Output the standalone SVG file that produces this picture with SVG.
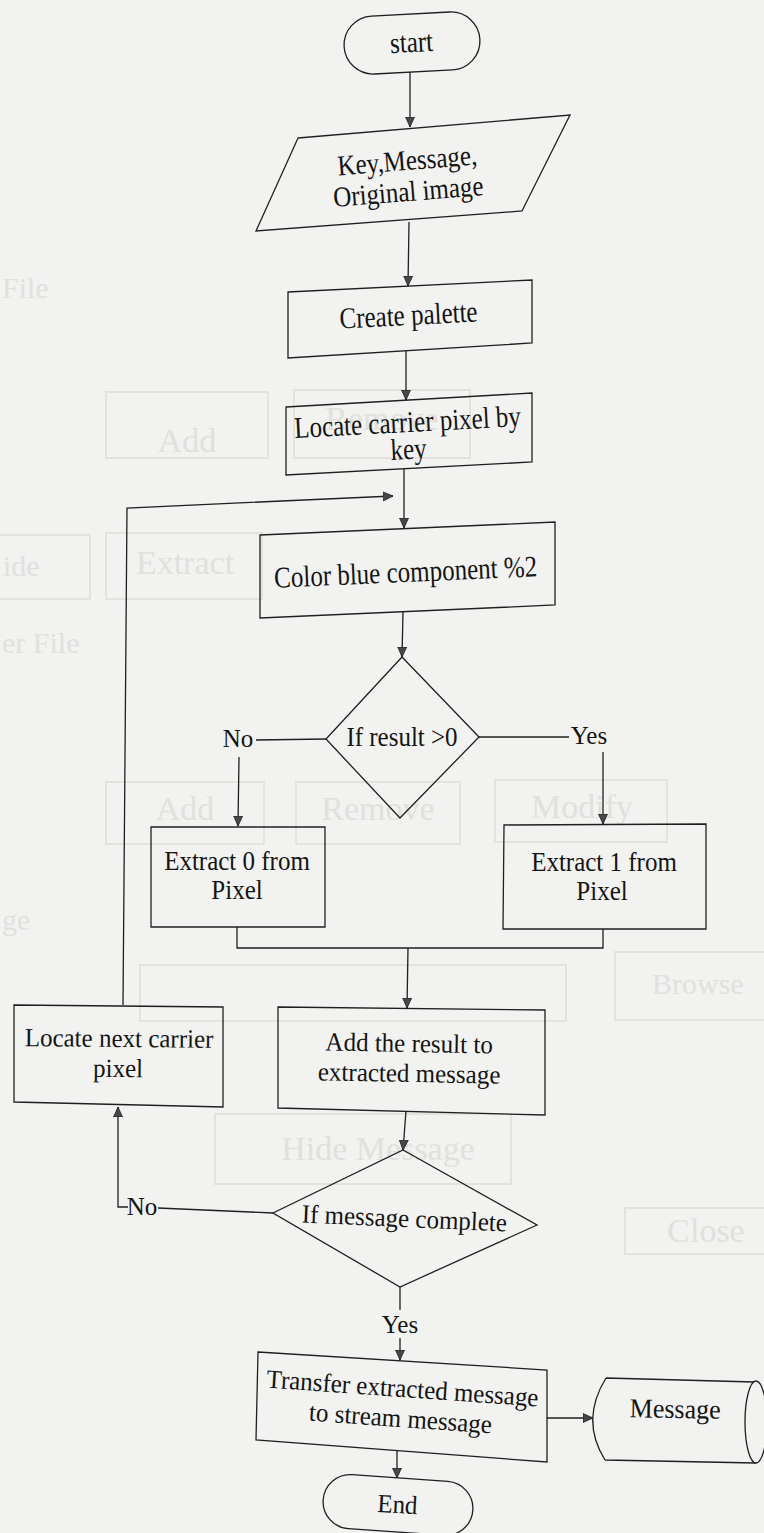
<svg xmlns="http://www.w3.org/2000/svg" width="764" height="1533" viewBox="0 0 764 1533">
  <style>
    .ln{fill:none;stroke:#1f1f1f;stroke-width:1.3;stroke-linejoin:miter}
    .shape{fill:none;stroke:#1f1f1f;stroke-width:1.3}
    .t{font-family:"Liberation Serif","Times New Roman",serif;font-size:25px;fill:#141414;text-anchor:middle}
    .ghost{fill:none;stroke:#e2e2df;stroke-width:2}
    .gt{font-family:"Liberation Serif","Times New Roman",serif;font-size:34px;fill:#e0e0dd;text-anchor:middle}
    .gl{font-family:"Liberation Serif","Times New Roman",serif;font-size:30px;fill:#e0e0dd;text-anchor:start}
  </style>
  <defs>
    <marker id="arrow" markerUnits="userSpaceOnUse" markerWidth="12" markerHeight="12" refX="10" refY="5" orient="auto">
      <path d="M0,0.5 L10,5 L0,9.5 z" fill="#474747" stroke="#1f1f1f" stroke-width="0.8"/>
    </marker>
  </defs>

  <!-- paper -->
  <rect x="0" y="0" width="764" height="1533" fill="#f2f2f0"/>

  <!-- faint print from the facing sheet -->
  <g id="show-through">
    <rect class="ghost" x="106" y="392" width="162" height="66"/>
    <rect class="ghost" x="294" y="390" width="176" height="68"/>
    <text class="gt" x="187" y="452">Add</text>
    <text class="gt" x="382" y="430">Remove</text>
    <rect class="ghost" x="-10" y="535" width="100" height="64"/>
    <rect class="ghost" x="106" y="533" width="156" height="66"/>
    <text class="gl" x="3" y="576">ide</text>
    <text class="gt" x="185" y="574">Extract</text>
    <text class="gl" x="2" y="298">File</text>
    <text class="gl" x="2" y="653">er File</text>
    <rect class="ghost" x="106" y="782" width="158" height="62"/>
    <rect class="ghost" x="296" y="782" width="164" height="62"/>
    <rect class="ghost" x="495" y="780" width="172" height="62"/>
    <text class="gt" x="185" y="820">Add</text>
    <text class="gt" x="378" y="820">Remove</text>
    <text class="gt" x="582" y="818">Modify</text>
    <text class="gl" x="2" y="930">ge</text>
    <rect class="ghost" x="140" y="965" width="426" height="56"/>
    <rect class="ghost" x="615" y="952" width="160" height="68"/>
    <text class="gl" x="652" y="994">Browse</text>
    <rect class="ghost" x="215" y="1114" width="296" height="70"/>
    <text class="gt" x="378" y="1160">Hide Message</text>
    <rect class="ghost" x="625" y="1208" width="150" height="46"/>
    <text class="gt" x="706" y="1242">Close</text>
  </g>

  <!-- flow lines -->
  <g id="connectors">
    <path class="ln" d="M410,72 L410,127" marker-end="url(#arrow)"/>
    <path class="ln" d="M409,222 L408,286" marker-end="url(#arrow)"/>
    <path class="ln" d="M406,351 L406,400" marker-end="url(#arrow)"/>
    <path class="ln" d="M404,469 L404,528" marker-end="url(#arrow)"/>
    <path class="ln" d="M123,1005 L127,508 L393,496" marker-end="url(#arrow)"/>
    <path class="ln" d="M403,612 L402,657" marker-end="url(#arrow)"/>
    <path class="ln" d="M326,739 L256,740"/>
    <path class="ln" d="M239,757 L238,826" marker-end="url(#arrow)"/>
    <path class="ln" d="M479,737 L569,737"/>
    <path class="ln" d="M603,752 L603,824" marker-end="url(#arrow)"/>
    <path class="ln" d="M237,927 L237,948 L603,948 L603,929"/>
    <path class="ln" d="M408,948 L407,1008" marker-end="url(#arrow)"/>
    <path class="ln" d="M406,1111 L403,1150" marker-end="url(#arrow)"/>
    <path class="ln" d="M273,1213 L158,1208"/>
    <path class="ln" d="M128,1207 L118,1207 L118,1107" marker-end="url(#arrow)"/>
    <path class="ln" d="M400,1287 L400,1310"/>
    <path class="ln" d="M400,1338 L400,1360" marker-end="url(#arrow)"/>
    <path class="ln" d="M547,1418 L593,1418" marker-end="url(#arrow)"/>
    <path class="ln" d="M397,1451 L397,1478" marker-end="url(#arrow)"/>
    <text class="t" transform="translate(238,747)">No</text>
    <text class="t" transform="translate(589,744)">Yes</text>
    <text class="t" transform="translate(142,1215)">No</text>
    <text class="t" transform="translate(400,1333)">Yes</text>
  </g>

  <g id="start">
    <rect class="shape" x="-68" y="-29" width="136" height="58" rx="29" transform="translate(412,43) rotate(-3)"/>
    <text class="t" transform="translate(412,52) rotate(-3) scale(1,1.2)">start</text>
  </g>

  <g id="input">
    <polygon class="shape" points="298,138 570,115 522,211 256,231"/>
    <text class="t" transform="translate(408,170) rotate(-4.5) scale(1,1.15)">Key,Message,</text>
    <text class="t" transform="translate(409,201) rotate(-4.5) scale(1,1.15)">Original image</text>
  </g>

  <g id="create-palette">
    <polygon class="shape" points="288,292 532,280 532,343 288,358"/>
    <text class="t" transform="translate(409,325) rotate(-3) scale(1,1.2)">Create palette</text>
  </g>

  <g id="locate-by-key">
    <polygon class="shape" points="286,407 532,393 532,462 286,475"/>
    <text class="t" transform="translate(408,432) rotate(-3) scale(1,1.2)">Locate carrier pixel by</text>
    <text class="t" transform="translate(409,459) rotate(-3) scale(1,1.2)">key</text>
  </g>

  <g id="blue-mod">
    <polygon class="shape" points="260,535 555,522 555,605 260,618"/>
    <text class="t" transform="translate(406,582) rotate(-2.5) scale(1,1.2)">Color blue component %2</text>
  </g>

  <g id="result-check">
    <polygon class="shape" points="402,657 479,737 400,818 326,739"/>
    <text class="t" transform="translate(402,746) scale(1,1.1)">If result &gt;0</text>
  </g>

  <g id="extract-zero">
    <polygon class="shape" points="151,827 325,827 325,927 151,927"/>
    <text class="t" transform="translate(237,870) scale(1,1.05)">Extract 0 from</text>
    <text class="t" transform="translate(237,899) scale(1,1.05)">Pixel</text>
  </g>

  <g id="extract-one">
    <polygon class="shape" points="504,825 706,824 706,929 503,929"/>
    <text class="t" transform="translate(604,871) scale(1,1.05)">Extract 1 from</text>
    <text class="t" transform="translate(602,900) scale(1,1.05)">Pixel</text>
  </g>

  <g id="locate-next">
    <polygon class="shape" points="14,1005 223,1007 223,1107 14,1102"/>
    <text class="t" transform="translate(119,1047) rotate(0.5) scale(1,1.05)">Locate next carrier</text>
    <text class="t" transform="translate(118,1077) rotate(0.5) scale(1,1.05)">pixel</text>
  </g>

  <g id="append-result">
    <polygon class="shape" points="278,1007 545,1010 545,1115 278,1108"/>
    <text class="t" transform="translate(409,1052) rotate(1) scale(1,1.05)">Add the result to</text>
    <text class="t" transform="translate(409,1082) rotate(1) scale(1,1.05)">extracted message</text>
  </g>

  <g id="message-check">
    <polygon class="shape" points="403,1150 537,1225 400,1287 273,1213"/>
    <text class="t" transform="translate(404,1227) rotate(2.5) scale(1,1.05)">If message complete</text>
  </g>

  <g id="transfer">
    <polygon class="shape" points="258,1352 547,1370 547,1462 256,1440"/>
    <text class="t" transform="translate(402,1397) rotate(4) scale(1,1.05)">Transfer extracted message</text>
    <text class="t" transform="translate(400,1427) rotate(4) scale(1,1.05)">to stream message</text>
  </g>

  <g id="message-store">
    <path class="shape" d="M606,1378 L754,1382 M605,1460 L756,1463 M606,1378 Q580,1420 605,1460"/>
    <ellipse class="shape" cx="756" cy="1422" rx="11" ry="41"/>
    <text class="t" transform="translate(675,1418) rotate(1) scale(1,1.05)" style="font-size:26px">Message</text>
  </g>

  <g id="end">
    <rect class="shape" x="-75" y="-27" width="150" height="54" rx="27" transform="translate(398,1505) rotate(4)"/>
    <text class="t" transform="translate(397,1513) rotate(3) scale(1,1.05)">End</text>
  </g>
</svg>
